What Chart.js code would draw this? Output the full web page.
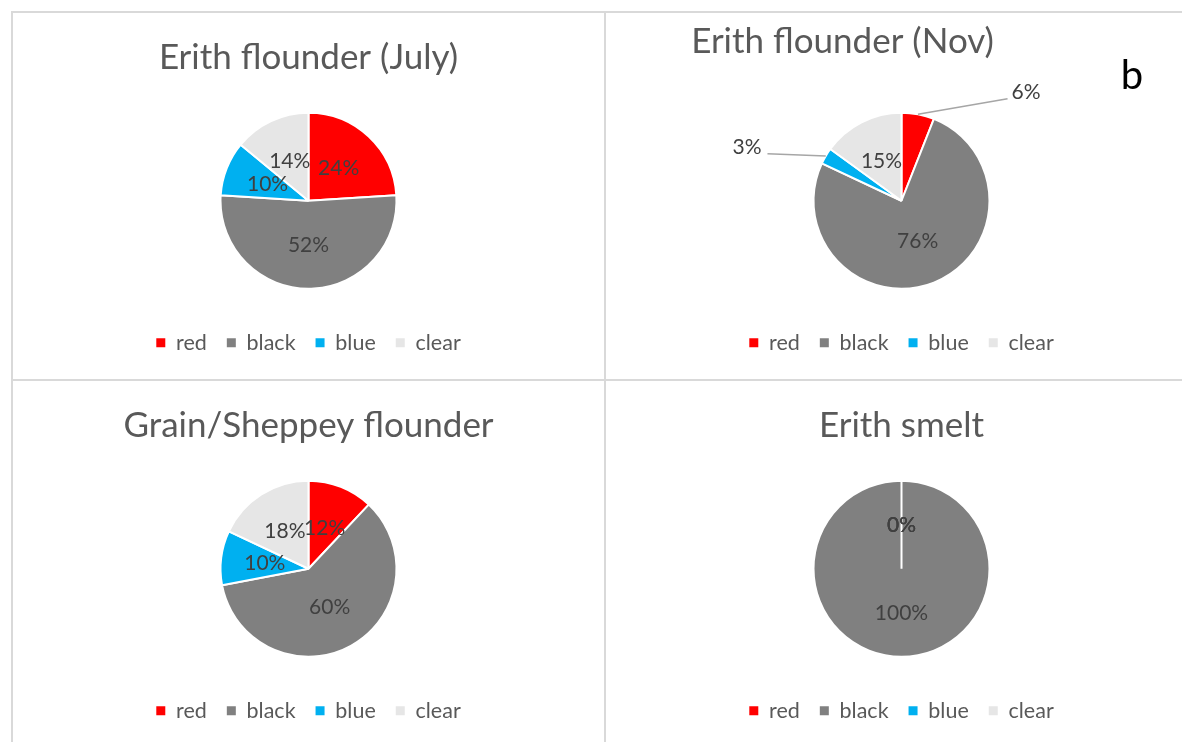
<!DOCTYPE html>
<html>
<head>
<meta charset="utf-8">
<script src="https://cdn.jsdelivr.net/npm/chart.js@4"></script>
<style>
  body { margin: 0; background: #fff; width: 1182px; height: 742px; overflow: hidden; position: relative; }
  .line { position: absolute; background: #d9d9d9; }
  canvas { position: absolute; }
</style>
</head>
<body>
<div class="line" style="left:11px;top:11px;width:1171px;height:2px"></div>
<div class="line" style="left:11px;top:11px;width:2px;height:731px"></div>
<div class="line" style="left:604px;top:11px;width:2px;height:731px"></div>
<div class="line" style="left:11px;top:379px;width:1171px;height:2px"></div>

<canvas id="c1" width="593" height="368" style="left:12px;top:12px"></canvas>
<canvas id="c2" width="593" height="368" style="left:605px;top:12px"></canvas>
<canvas id="c3" width="593" height="368" style="left:12px;top:380px"></canvas>
<canvas id="c4" width="593" height="368" style="left:605px;top:380px"></canvas>

<script>
// colour categories
const categories = ['red', 'black', 'blue', 'clear'];
// percentages per sample
const erithJuly = [24, 52, 10, 14];
const erithNov = [6, 76, 3, 15];
const grainSheppey = [12, 60, 10, 18];
const erithSmelt = [0, 100, 0, 0];
const titles = ['Erith flounder (July)', 'Erith flounder (Nov)', 'Grain/Sheppey flounder', 'Erith smelt'];

const sliceColors = ['#ff0000', '#808080', '#00b0f0', '#e6e6e6'];

Chart.defaults.font.family = 'Lato';

// percent labels, at mid radius or outside with a leader line
const pieLabels = {
  id: 'pieLabels',
  afterDatasetsDraw(chart, args, opts) {
    const ctx = chart.ctx;
    const meta = chart.getDatasetMeta(0);
    const values = chart.data.datasets[0].data;
    const outside = opts.outside || {};
    ctx.save();
    ctx.font = '21px Lato';
    ctx.fillStyle = '#404040';
    ctx.textBaseline = 'middle';
    meta.data.forEach((arc, i) => {
      const text = values[i] + '%';
      const o = outside[i];
      if (o) {
        const mid = (arc.startAngle + arc.endAngle) / 2;
        const r = arc.outerRadius;
        const x0 = arc.x + Math.cos(mid) * r, y0 = arc.y + Math.sin(mid) * r;
        const x1 = arc.x + o[0] * r, y1 = arc.y + o[1] * r;
        ctx.strokeStyle = '#a6a6a6';
        ctx.lineWidth = 1.5;
        ctx.beginPath();
        ctx.moveTo(x0, y0);
        ctx.lineTo(x1, y1);
        ctx.stroke();
        ctx.textAlign = o[0] > 0 ? 'left' : 'right';
        ctx.fillText(text, x1 + (o[0] > 0 ? 4 : -6), y1 - 7);
      } else {
        const p = arc.tooltipPosition();
        ctx.textAlign = 'center';
        ctx.fillText(text, p.x, p.y);
      }
    });
    ctx.restore();
  }
};

const extraText = {
  id: 'extraText',
  afterDraw(chart, args, opts) {
    const ctx = chart.ctx;
    (opts.items || []).forEach(t => {
      ctx.save();
      ctx.font = t.font;
      ctx.fillStyle = t.color;
      ctx.textAlign = 'center';
      ctx.textBaseline = t.baseline || 'middle';
      ctx.fillText(t.text, t.x, t.y);
      ctx.restore();
    });
  }
};

const baseLegendLabels = (Chart.overrides.pie || Chart.overrides.doughnut).plugins.legend.labels.generateLabels;

function makePie(id, values, title, extra) {
  extra = extra || {};
  return new Chart(document.getElementById(id), {
    type: 'pie',
    data: {
      labels: categories,
      datasets: [{
        data: values,
        backgroundColor: sliceColors,
        borderColor: '#ffffff',
        borderWidth: 2,
        radius: 88
      }]
    },
    options: {
      responsive: false,
      animation: false,
      events: [],
      layout: { padding: { top: title ? 0 : 77.5, bottom: 16.5 } },
      plugins: {
        title: {
          display: !!title,
          text: title,
          color: '#595959',
          font: { size: 35, weight: 'normal' },
          padding: { top: 25, bottom: 10.5 }
        },
        legend: {
          position: 'bottom',
          labels: {
            boxWidth: 9,
            boxHeight: 9,
            padding: 20,
            color: '#595959',
            font: { size: 21.5 },
            generateLabels(chart) {
              return baseLegendLabels(chart).map(l => Object.assign(l, { lineWidth: 0 }));
            }
          }
        },
        tooltip: { enabled: false },
        pieLabels: { outside: extra.outside || {} },
        extraText: { items: extra.items || [] }
      }
    },
    plugins: [pieLabels, extraText]
  });
}

makePie('c1', erithJuly, titles[0]);
makePie('c2', erithNov, null, {
  outside: { 0: [1.205, -1.159], 2: [-1.523, -0.534] },
  items: [
    { text: titles[1], x: 237.5, y: 30, font: '35px Lato', color: '#595959' },
    { text: 'b', x: 527, y: 77, font: '40px Lato', color: '#000000', baseline: 'alphabetic' }
  ]
});
makePie('c3', grainSheppey, titles[2]);
makePie('c4', erithSmelt, titles[3]);
</script>
</body>
</html>
